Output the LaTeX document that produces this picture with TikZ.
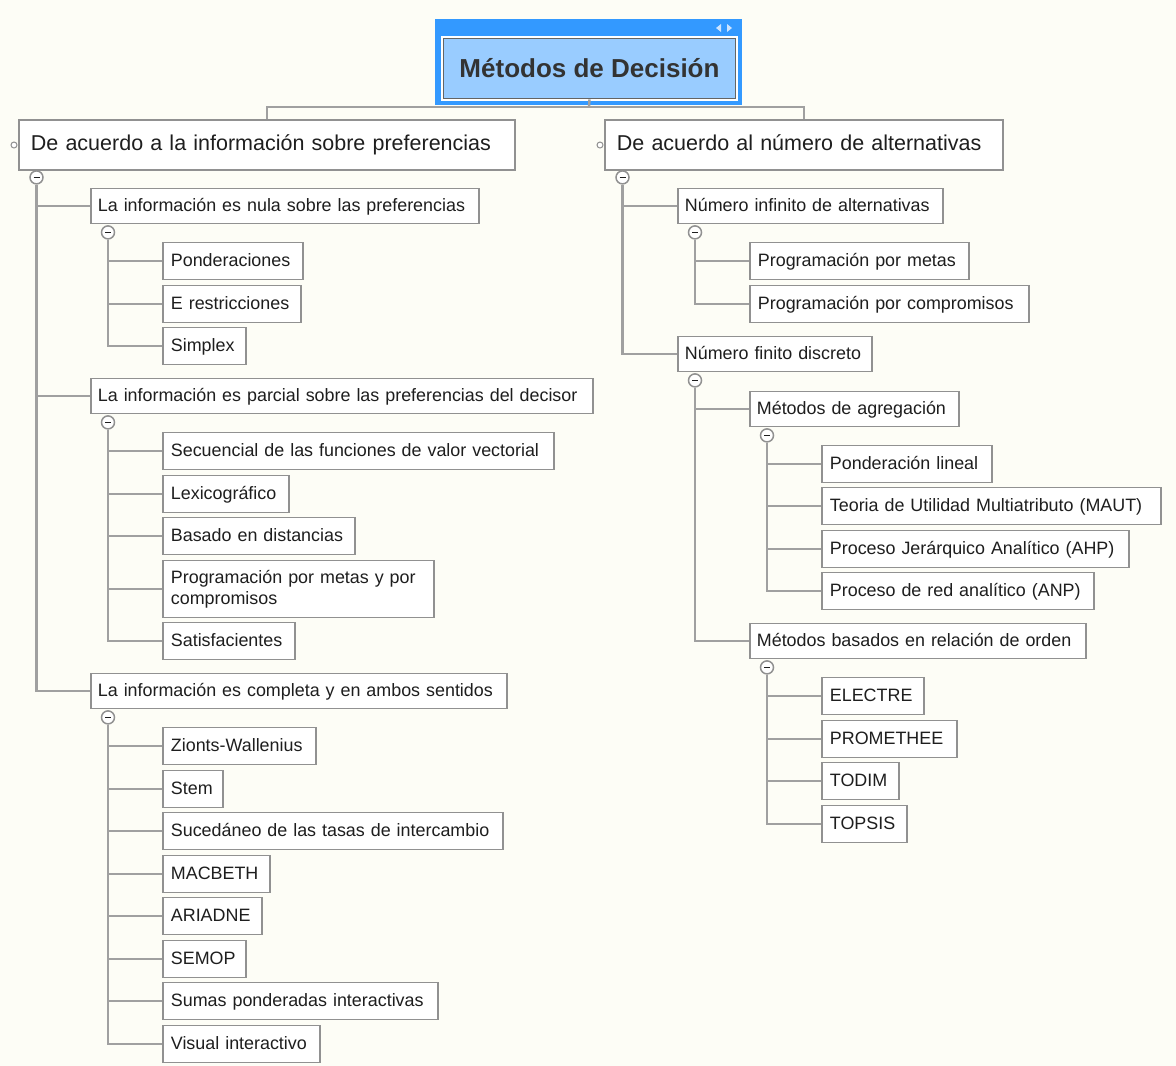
\documentclass[tikz,border=0pt]{standalone}
\usepackage{fontspec}
\setmainfont{Liberation Sans}
\usetikzlibrary{calc}

\definecolor{paper}{RGB}{253,253,246}
\definecolor{framegray}{RGB}{145,145,145}
\definecolor{wiregray}{RGB}{160,160,160}
\definecolor{ink}{RGB}{30,30,30}
\definecolor{rootblue}{RGB}{51,153,255}
\definecolor{rootfill}{RGB}{153,204,255}
\definecolor{rootedge}{RGB}{100,100,100}
\definecolor{rootink}{RGB}{51,51,51}
\definecolor{arrowtint}{RGB}{205,228,255}

\begin{document}
\begin{tikzpicture}[x=1pt,y=-1pt,
  plainbox/.style={draw=framegray, fill=white, line width=1.8pt, anchor=west,
    align=left, inner ysep=0pt, text=ink},
  onerow/.style={plainbox, execute at begin node={\hbox\bgroup},
    execute at end node={\egroup}},
  topic/.style={onerow, inner xsep=12pt, minimum height=50pt,
    font=\fontsize{21.5}{25}\selectfont, text height=15.5pt, text depth=5pt},
  sub/.style={onerow, inner xsep=7pt, minimum height=35pt,
    font=\fontsize{17.9}{21}\selectfont, text height=14.5pt, text depth=3pt},
  leaf/.style={onerow, inner xsep=8pt, minimum height=37pt,
    font=\fontsize{17.9}{21}\selectfont, text height=14.5pt, text depth=3pt},
  tallleaf/.style={plainbox, inner xsep=8pt, minimum height=57pt,
    font=\fontsize{17.9}{21}\selectfont},
  toggle/.style={circle, draw=framegray, fill=white, line width=1.5pt,
    minimum size=13pt, inner sep=0pt,
    path picture={\draw[ink, line width=1.6pt]
      ([xshift=-3pt]path picture bounding box.center) --
      ([xshift=3pt]path picture bounding box.center);}},
  knob/.style={circle, draw=framegray, fill=white, line width=1pt,
    minimum size=6pt, inner sep=0pt},
  link/.style={draw=wiregray, line width=2.4pt},
  rootframe/.style={fill=rootblue, minimum width=307pt, minimum height=86pt,
    inner sep=0pt},
  rootbox/.style={fill=rootfill, draw=rootedge, line width=1.6pt,
    preaction={draw=white, line width=5pt}, minimum width=292pt,
    minimum height=60pt, inner sep=0pt,
    font=\bfseries\fontsize{26}{30}\selectfont, text=rootink},
]

% page
\fill[paper] (0,0) rectangle (1176,1066);

% title block
\node[rootframe] (frame) at (588.5,62) {};
\node[rootbox] (root) at (589.5,68.5) {Métodos de Decisión};
\fill[arrowtint] (716,28) -- (721,24) -- (721,32) -- cycle;
\fill[arrowtint] (732,28) -- (727,24) -- (727,32) -- cycle;

% first level
\node[topic, text width=472pt] (prefs) at (18,145)
  {De acuerdo a la información sobre preferencias};
\node[topic, text width=374pt] (alts) at (604,145)
  {De acuerdo al número de alternativas};
\node[knob] (kprefs) at ($(prefs.west)+(-4,0)$) {};
\node[knob] (kalts) at ($(alts.west)+(-4,0)$) {};

\coordinate (hub) at (589,107);
\draw[link] (root.south) -- (hub);
\draw[link] (prefs.north) |- (hub) -| (alts.north);

% ---------- left branch ----------
\node[sub, text width=374pt] (nula) at (90,206)
  {La información es nula sobre las preferencias};
\node[leaf, text width=124pt] (pond) at (162,261) {Ponderaciones};
\node[leaf, text width=122pt] (erest) at (162,304) {E restricciones};
\node[leaf, text width=67pt] (simplex) at (162,346) {Simplex};

\node[sub, text width=488pt] (parcial) at (90,396)
  {La información es parcial sobre las preferencias del decisor};
\node[leaf, text width=375pt] (secu) at (162,451)
  {Secuencial de las funciones de valor vectorial};
\node[leaf, text width=110pt] (lexi) at (162,494) {Lexicográfico};
\node[leaf, text width=176pt] (dist) at (162,536) {Basado en distancias};
\node[tallleaf, text width=255pt] (metcomp) at (162,589)
  {Programación por metas y por\\compromisos};
\node[leaf, text width=116pt] (satis) at (162,641) {Satisfacientes};

\node[sub, text width=402pt] (completa) at (90,691)
  {La información es completa y en ambos sentidos};
\node[leaf, text width=137pt] (zionts) at (162,746) {Zionts-Wallenius};
\node[leaf, text width=44pt] (stem) at (162,789) {Stem};
\node[leaf, text width=324pt] (suced) at (162,831)
  {Sucedáneo de las tasas de intercambio};
\node[leaf, text width=91pt] (macbeth) at (162,874) {MACBETH};
\node[leaf, text width=83pt] (ariadne) at (162,916) {ARIADNE};
\node[leaf, text width=67pt] (semop) at (162,959) {SEMOP};
\node[leaf, text width=259pt] (sumas) at (162,1001)
  {Sumas ponderadas interactivas};
\node[leaf, text width=141pt] (visual) at (162,1044) {Visual interactivo};

% ---------- right branch ----------
\node[sub, text width=251pt] (infinito) at (677,206)
  {Número infinito de alternativas};
\node[leaf, text width=203pt] (metas) at (749,261) {Programación por metas};
\node[leaf, text width=263pt] (compromisos) at (749,304)
  {Programación por compromisos};

\node[sub, text width=180pt] (finito) at (677,354) {Número finito discreto};
\node[sub, text width=195pt] (agreg) at (749,409) {Métodos de agregación};
\node[leaf, text width=154pt] (lineal) at (821,464) {Ponderación lineal};
\node[leaf, text width=323pt] (maut) at (821,506)
  {Teoria de Utilidad Multiatributo (MAUT)};
\node[leaf, text width=291pt] (ahp) at (821,549)
  {Proceso Jerárquico Analítico (AHP)};
\node[leaf, text width=256pt] (anp) at (821,591)
  {Proceso de red analítico (ANP)};

\node[sub, text width=322pt] (orden) at (749,641)
  {Métodos basados en relación de orden};
\node[leaf, text width=86pt] (electre) at (821,696) {ELECTRE};
\node[leaf, text width=119pt] (promethee) at (821,739) {PROMETHEE};
\node[leaf, text width=61pt] (todim) at (821,781) {TODIM};
\node[leaf, text width=69pt] (topsis) at (821,824) {TOPSIS};

% collapse buttons under every parent
\foreach \p in {prefs,alts}
  \node[toggle] (t\p) at ($(\p.south west)+(18.5,6.5)$) {};
\foreach \p in {nula,parcial,completa,infinito,finito,agreg,orden}
  \node[toggle] (t\p) at ($(\p.south west)+(18,8)$) {};

% tree connectors
\foreach \c in {nula,parcial,completa}
  \draw[link] (tprefs.south) |- (\c.west);
\foreach \c in {pond,erest,simplex}
  \draw[link] (tnula.south) |- (\c.west);
\foreach \c in {secu,lexi,dist,metcomp,satis}
  \draw[link] (tparcial.south) |- (\c.west);
\foreach \c in {zionts,stem,suced,macbeth,ariadne,semop,sumas,visual}
  \draw[link] (tcompleta.south) |- (\c.west);
\foreach \c in {infinito,finito}
  \draw[link] (talts.south) |- (\c.west);
\foreach \c in {metas,compromisos}
  \draw[link] (tinfinito.south) |- (\c.west);
\foreach \c in {agreg,orden}
  \draw[link] (tfinito.south) |- (\c.west);
\foreach \c in {lineal,maut,ahp,anp}
  \draw[link] (tagreg.south) |- (\c.west);
\foreach \c in {electre,promethee,todim,topsis}
  \draw[link] (torden.south) |- (\c.west);
\end{tikzpicture}
\end{document}
